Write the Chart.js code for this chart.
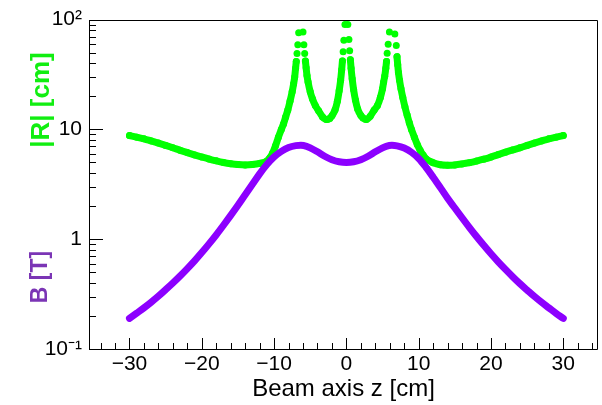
<!DOCTYPE html>
<html>
<head>
<meta charset="utf-8">
<title>Field and radius along beam axis</title>
<script src="https://cdn.jsdelivr.net/npm/chart.js@4.4.0/dist/chart.umd.min.js"></script>
<style>
    html, body { margin: 0; padding: 0; background: #fff; }
    #wrap { width: 602px; height: 405px; }
</style>
</head>
<body>
<div id="wrap"><canvas id="chart" width="602" height="405"></canvas></div>
<script>
// -------- DATA --------
// |R| [cm] along z (green)
const radiusZ = [
    -30, -29, -28, -27, -26, -25, -24, -23, -22, -21, -20, -19, -18, -17, -16, -15, -14, -13, -12, -11,
    -10.6, -10.2, -9.8, -9.4, -9.0, -8.7, -8.4, -8.1, -7.8, -7.5, -7.3, -7.15, -7.03, -6.93, -6.83, -6.72, -6.6,
    -6.0, -5.88, -5.77, -5.67, -5.57, -5.45, -5.3, -5.0, -4.7, -4.3, -3.85, -3.3, -2.75,
    -2.3, -2.0, -1.56, -1.25, -1.0, -0.8, -0.65, -0.55, -0.45, -0.35, -0.2,
    0.2, 0.35, 0.45, 0.55, 0.65, 0.8, 1.0, 1.25, 1.56, 2.0, 2.3,
    2.75, 3.3, 3.85, 4.3, 4.7, 5.0, 5.15, 5.3, 5.45, 5.55, 5.64, 5.78, 5.95,
    6.7, 6.9, 7.0, 7.1, 7.2, 7.35, 7.55, 7.8, 8.1, 8.4, 8.7, 9.0, 9.4, 9.8, 10.2, 10.6,
    11, 12, 13, 14, 15, 16, 17, 18, 19, 20, 21, 22, 23, 24, 25, 26, 27, 28, 29, 30
];
const radiusR = [
    8.8, 8.5, 8.2, 7.85, 7.5, 7.15, 6.8, 6.45, 6.15, 5.85, 5.6, 5.37, 5.17, 5.0, 4.87, 4.78, 4.74, 4.78, 4.9, 5.15,
    5.5, 6.1, 7.1, 8.5, 10.0, 11.2, 13.0, 15.0, 18.0, 22.0, 26.0, 30.0, 36.0, 41.6, 49.0, 59.0, 76.0,
    77.0, 59.0, 49.0, 42.0, 36.5, 31.0, 27.0, 22.0, 19.0, 16.5, 14.8, 13.0, 12.3,
    12.6, 13.3, 15.1, 18.0, 22.5, 28.0, 35.0, 42.0, 51.0, 65.0, 90.0,
    90.0, 66.0, 52.0, 43.0, 36.0, 29.0, 23.0, 18.5, 15.3, 13.4, 12.7,
    12.3, 13.2, 15.0, 16.5, 19.5, 23.5, 27.0, 30.5, 36.0, 41.6, 49.4, 59.5, 77.0,
    74.0, 58.0, 46.0, 38.7, 33.0, 28.0, 23.5, 19.5, 16.0, 13.5, 11.5, 10.0, 8.5, 7.3, 6.45, 5.85,
    5.4, 4.98, 4.77, 4.72, 4.75, 4.85, 4.98, 5.15, 5.35, 5.6, 5.9, 6.2, 6.5, 6.8, 7.15, 7.5, 7.85, 8.2, 8.5, 8.8
];

// B [T] along z (purple)
const fieldZ = [
    -30, -29, -28, -27, -26, -25, -24, -23, -22, -21, -20, -19, -18, -17, -16, -15, -14, -13, -12, -11,
    -10, -9, -8, -7, -6.3, -5.5, -5, -4, -3, -2, -1, 0,
    1, 2, 3, 4, 5, 5.5, 6.3, 7, 8, 9, 10,
    11, 12, 13, 14, 15, 16, 17, 18, 19, 20, 21, 22, 23, 24, 25, 26, 27, 28, 29, 30
];
const fieldB = [
    0.19, 0.212, 0.237, 0.267, 0.303, 0.347, 0.399, 0.462, 0.54, 0.635, 0.755, 0.906, 1.096, 1.34, 1.648, 2.037, 2.54, 3.16, 3.94, 4.79,
    5.62, 6.31, 6.84, 7.11, 7.16, 7.02, 6.8, 6.25, 5.7, 5.3, 5.07, 5.0,
    5.07, 5.3, 5.7, 6.25, 6.8, 7.02, 7.16, 7.08, 6.76, 6.19, 5.43,
    4.52, 3.67, 2.95, 2.36, 1.923, 1.567, 1.282, 1.057, 0.879, 0.736, 0.622, 0.531, 0.456, 0.394, 0.344, 0.301, 0.266, 0.237, 0.211, 0.19
];

// axis ticks
const xTickValues = [-34, -32, -30, -28, -26, -24, -22, -20, -18, -16, -14, -12, -10, -8, -6, -4, -2, 0,
    2, 4, 6, 8, 10, 12, 14, 16, 18, 20, 22, 24, 26, 28, 30, 32, 34];
const xMajorValues = [-30, -20, -10, 0, 10, 20, 30];
const xMajorLabels = ['\u221230', '\u221220', '\u221210', '0', '10', '20', '30'];

const yTickValues = [0.1, 0.2, 0.3, 0.4, 0.5, 0.6, 0.7, 0.8, 0.9, 1, 2, 3, 4, 5, 6, 7, 8, 9,
    10, 20, 30, 40, 50, 60, 70, 80, 90, 100];
const yMajorValues = [0.1, 1, 10, 100];
const yMajorLabels = ['10\u207B\u00B9', '1', '10', '10\u00B2'];
// -------- END DATA --------

const GREEN = '#00ff00';
const PURPLE = '#8c00ff';
const FONT = '"Liberation Sans", Arial, sans-serif';

function toPoints(xs, ys) {
    return xs.map((x, i) => ({ x: x, y: ys[i] }));
}

// -------- FRAME, TICKS, Y TITLES --------
const rootFrame = {
    id: 'rootFrame',
    afterDraw(chart) {
        const ctx = chart.ctx;
        const a = chart.chartArea;
        const xs = chart.scales.x;
        const ys = chart.scales.y;
        ctx.save();
        ctx.strokeStyle = '#000';
        ctx.lineWidth = 1;
        ctx.beginPath();
        ctx.rect(Math.round(a.left) + 0.5, Math.round(a.top) + 0.5,
            Math.round(a.right - a.left) - 1, Math.round(a.bottom - a.top));
        ctx.stroke();

        ctx.beginPath();
        xTickValues.forEach(v => {
            const px = Math.round(xs.getPixelForValue(v)) + 0.5;
            const len = xMajorValues.includes(v) ? 11 : 6;
            ctx.moveTo(px, a.bottom);
            ctx.lineTo(px, a.bottom - len);
        });
        yTickValues.forEach(v => {
            const py = Math.round(ys.getPixelForValue(v)) + 0.5;
            const len = yMajorValues.includes(v) ? 14 : 7;
            ctx.moveTo(a.left, py);
            ctx.lineTo(a.left + len, py);
        });
        ctx.stroke();

        // two coloured y titles
        ctx.textAlign = 'center';
        ctx.textBaseline = 'middle';
        ctx.save();
        ctx.translate(42, 100);
        ctx.rotate(-Math.PI / 2);
        ctx.fillStyle = '#11ee11';
        ctx.font = 'bold 26px ' + FONT;
        ctx.fillText('|R| [cm]', 0, 0);
        ctx.restore();
        ctx.save();
        ctx.translate(41, 277);
        ctx.rotate(-Math.PI / 2);
        ctx.fillStyle = '#7b35b5';
        ctx.font = 'bold 23px ' + FONT;
        ctx.fillText('B [T]', 0, 0);
        ctx.restore();
        ctx.restore();
    }
};

// -------- CHART --------
const ctx = document.getElementById('chart').getContext('2d');
new Chart(ctx, {
    type: 'scatter',
    data: {
        datasets: [{
            label: 'B [T]',
            data: toPoints(fieldZ, fieldB),
            showLine: true,
            borderColor: PURPLE,
            borderWidth: 7,
            borderCapStyle: 'round',
            borderJoinStyle: 'round',
            cubicInterpolationMode: 'monotone',
            pointRadius: 0
        }, {
            label: '|R| [cm]',
            data: toPoints(radiusZ, radiusR),
            showLine: true,
            borderColor: GREEN,
            borderWidth: 7,
            borderCapStyle: 'round',
            borderJoinStyle: 'round',
            cubicInterpolationMode: 'monotone',
            pointRadius: 3.5,
            pointBorderWidth: 0,
            pointBackgroundColor: GREEN,
            segment: {
                borderColor: c => (c.p0.parsed.y > 40 && c.p1.parsed.y > 40) ? 'rgba(0,0,0,0)' : undefined
            }
        }]
    },
    options: {
        responsive: false,
        animation: false,
        devicePixelRatio: 1,
        events: [],
        layout: { padding: { top: 16, right: 2, left: 0, bottom: 0 } },
        plugins: {
            legend: { display: false },
            tooltip: { enabled: false }
        },
        scales: {
            x: {
                type: 'linear',
                min: -35.6,
                max: 34.8,
                afterBuildTicks: s => { s.ticks = xTickValues.map(v => ({ value: v })); },
                afterFit: s => { s.height = 56; },
                grid: { display: false, drawTicks: false },
                border: { display: false },
                ticks: {
                    autoSkip: false,
                    maxRotation: 0,
                    padding: 3,
                    color: '#000',
                    font: { family: FONT, size: 21 },
                    callback: v => {
                        const i = xMajorValues.indexOf(v);
                        return i >= 0 ? xMajorLabels[i] : '';
                    }
                },
                title: {
                    display: true,
                    text: 'Beam axis z [cm]',
                    color: '#000',
                    font: { family: FONT, size: 24 },
                    padding: { top: 0, bottom: 1 }
                }
            },
            y: {
                type: 'logarithmic',
                min: 0.1,
                max: 100,
                afterBuildTicks: s => { s.ticks = yTickValues.map(v => ({ value: v })); },
                afterFit: s => { s.width = 89; },
                grid: { display: false, drawTicks: false },
                border: { display: false },
                ticks: {
                    autoSkip: false,
                    padding: 7,
                    color: '#000',
                    font: { family: FONT, size: 21 },
                    callback: (v, i) => {
                        const val = yTickValues[i];
                        const k = yMajorValues.indexOf(val);
                        return k >= 0 ? yMajorLabels[k] : '';
                    }
                }
            }
        }
    },
    plugins: [rootFrame]
});
</script>
</body>
</html>
